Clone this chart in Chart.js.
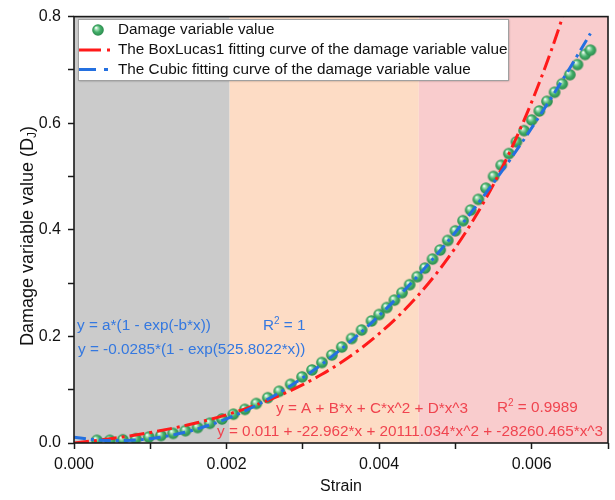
<!DOCTYPE html>
<html><head><meta charset="utf-8">
<script src="https://cdn.jsdelivr.net/npm/chart.js@4.4.1/dist/chart.umd.min.js"></script>
<style>html,body{margin:0;padding:0;background:#fff}#wrap{width:615px;height:500px;position:relative}</style>
</head><body><div id="wrap"><canvas id="c" width="615" height="500"></canvas></div>
<script>
// ---- data ----
const strainPoints = [0.0003,0.00047,0.00064,0.00081,0.00098,0.00114,0.0013,0.00146,0.00162,0.00178,0.00194,
  0.00209,0.00224,0.00239,0.00254,0.00269,0.00284,0.00299,0.00312,0.00325,0.00338,0.00351,0.00364,0.00377,0.0039,
  0.0040,0.0041,0.0042,0.0043,0.0044,0.0045,0.0046,0.0047,0.0048,0.0049,0.0050,0.0051,0.0052,0.0053,0.0054,0.0055,
  0.0056,0.0057,0.0058,0.0059,0.0060,0.0061,0.0062,0.0063,0.0064,0.0065,0.0066,0.0067,0.00677];
const damagePoints = [0.005,0.005,0.006,0.008,0.011,0.014,0.018,0.023,0.029,0.037,0.045,
  0.054,0.063,0.074,0.085,0.097,0.110,0.124,0.137,0.151,0.165,0.180,0.196,0.212,0.229,
  0.241,0.254,0.268,0.282,0.297,0.312,0.328,0.345,0.362,0.380,0.398,0.417,0.437,0.457,0.478,0.500,
  0.521,0.543,0.565,0.586,0.606,0.623,0.641,0.658,0.674,0.691,0.710,0.729,0.737];

const boxLucasStrain = [0,0.00025,0.0005,0.00075,0.001,0.00125,0.0015,0.00175,0.002,0.00225,0.0025,0.00275,0.003,
  0.00325,0.0035,0.00375,0.004,0.00425,0.0045,0.00475,0.005,0.00525,0.0055,0.00575,0.006,0.00625,0.0065];
const boxLucasValues = [0,0.0040,0.0086,0.0138,0.0197,0.0265,0.0342,0.0430,0.0531,0.0645,0.0776,0.0925,0.1095,
  0.1289,0.1510,0.1762,0.2050,0.2378,0.2752,0.3179,0.3665,0.4220,0.4853,0.5575,0.6399,0.7338,0.8408];

const cubicStrain = [0,0.00025,0.0005,0.00075,0.001,0.00125,0.0015,0.00175,0.002,0.00225,0.0025,0.00275,0.003,
  0.00325,0.0035,0.00375,0.004,0.00425,0.0045,0.00475,0.005,0.00525,0.0055,0.00575,0.006,0.00625,0.0065,0.00675,0.00677];
const cubicValues = [0.011,0.0065,0.0045,0.0051,0.0081,0.0137,0.0217,0.0323,0.0453,0.0608,0.0788,0.0994,0.1224,
  0.1478,0.1758,0.2062,0.2391,0.2745,0.3123,0.3527,0.3954,0.4407,0.4884,0.5385,0.5911,0.6462,0.7037,0.7636,0.7685];

const regionBounds = [0, 0.00204, 0.00452, 0.007];
const regionColors = ['#cbcbcb', '#fddcc5', '#f9cccd'];

const seriesNames = ['Damage variable value',
  'The BoxLucas1 fitting curve of the damage variable value',
  'The Cubic fitting curve of the damage variable value'];
const xTitle = 'Strain';
const yTitleMain = 'Damage variable value (D';
const yTitleSub = 'J';

const FONT = '"Liberation Sans", Arial, sans-serif';
const RED = '#ff1a1a', BLUE = '#2470e0';
const RED_TXT = '#f0444f', BLUE_TXT = '#3478e0';

function sphere(r){
  const s = Math.ceil(r*2+2), c = document.createElement('canvas');
  c.width = c.height = s;
  const g = c.getContext('2d'), cx = s/2, cy = s/2;
  const grd = g.createRadialGradient(cx-r*0.35, cy-r*0.4, r*0.05, cx, cy, r);
  grd.addColorStop(0, '#ffffff');
  grd.addColorStop(0.22, '#a6e0b8');
  grd.addColorStop(0.55, '#45b06b');
  grd.addColorStop(1, '#2a8a4c');
  g.fillStyle = grd; g.beginPath(); g.arc(cx, cy, r, 0, Math.PI*2); g.fill();
  return c;
}
const ball = sphere(5.8);

function rich(ctx, parts, x, y, align, base){
  let total = 0;
  const b = base || 15.3;
  parts.forEach(p => { ctx.font = (p.size||b)+'px '+FONT; p.w = ctx.measureText(p.t).width; total += p.w; });
  let cx = align === 'center' ? x - total/2 : x;
  parts.forEach(p => {
    ctx.font = (p.size||b)+'px '+FONT;
    ctx.textAlign = 'left'; ctx.textBaseline = 'middle';
    ctx.fillText(p.t, cx, y + (p.dy||0));
    cx += p.w;
  });
}

const decor = {
  id: 'decor',
  beforeDatasetsDraw(chart){
    const {ctx, chartArea:a, scales:{x}} = chart;
    ctx.save();
    for (let i = 0; i < regionColors.length; i++){
      const x0 = x.getPixelForValue(regionBounds[i]), x1 = x.getPixelForValue(regionBounds[i+1]);
      ctx.fillStyle = regionColors[i];
      ctx.fillRect(x0, a.top, x1 - x0, a.bottom - a.top);
    }
    ctx.restore();
  },
  afterDatasetsDraw(chart){
    const {ctx, chartArea:a} = chart;
    ctx.save();
    // texts of the fits
    ctx.fillStyle = BLUE_TXT;
    rich(ctx, [{t:'y = a*(1 - exp(-b*x))'}], 77, 326);
    rich(ctx, [{t:'R'},{t:'2',size:10,dy:-5},{t:' = 1'}], 263, 326);
    rich(ctx, [{t:'y = -0.0285*(1 - exp(525.8022*x))'}], 78, 350);
    ctx.fillStyle = RED_TXT;
    rich(ctx, [{t:'y = A + B*x + C*x^2 + D*x^3'}], 276, 409);
    rich(ctx, [{t:'R'},{t:'2',size:10,dy:-5},{t:' = 0.9989'}], 497, 408);
    rich(ctx, [{t:'y = 0.011 + -22.962*x + 20111.034*x^2 + -28260.465*x^3'}], 217, 432);
    // frame
    ctx.strokeStyle = '#1a1a1a'; ctx.lineWidth = 1.6;
    ctx.strokeRect(a.left, a.top, a.right - a.left, a.bottom - a.top);
    // legend box
    const lx = 78, ly = 19, lw = 430, lh = 61;
    ctx.save();
    ctx.shadowColor = 'rgba(0,0,0,0.35)'; ctx.shadowBlur = 2; ctx.shadowOffsetX = 1; ctx.shadowOffsetY = 1;
    ctx.fillStyle = '#ffffff'; ctx.fillRect(lx, ly, lw, lh);
    ctx.restore();
    ctx.strokeStyle = '#a0a0a0'; ctx.lineWidth = 1; ctx.strokeRect(lx+0.5, ly+0.5, lw, lh);
    ctx.drawImage(ball, 98 - ball.width/2, 30 - ball.height/2);
    ctx.lineWidth = 3; ctx.lineCap = 'butt';
    ctx.strokeStyle = RED; ctx.setLineDash([22,6,3,6]);
    ctx.beginPath(); ctx.moveTo(79, 50); ctx.lineTo(111, 50); ctx.stroke();
    ctx.strokeStyle = BLUE; ctx.setLineDash([17,8,4,6]);
    ctx.beginPath(); ctx.moveTo(79, 69.5); ctx.lineTo(111, 69.5); ctx.stroke();
    ctx.setLineDash([]);
    ctx.fillStyle = '#111';
    rich(ctx, [{t:seriesNames[0]}], 118, 30);
    rich(ctx, [{t:seriesNames[1]}], 118, 50);
    rich(ctx, [{t:seriesNames[2]}], 118, 69.5);
    // axis titles
    ctx.fillStyle = '#111';
    rich(ctx, [{t:xTitle}], (a.left + a.right)/2, 487, 'center', 16);
    ctx.translate(28, 236); ctx.rotate(-Math.PI/2);
    rich(ctx, [{t:yTitleMain},{t:yTitleSub,size:12,dy:5},{t:')'}], 0, 0, 'center', 18);
    ctx.restore();
  }
};

const pts = strainPoints.map((v,i) => ({x:v, y:damagePoints[i]}));
const blc = boxLucasStrain.map((v,i) => ({x:v, y:boxLucasValues[i]}));
const cub = cubicStrain.map((v,i) => ({x:v, y:cubicValues[i]}));

new Chart(document.getElementById('c'), {
  type: 'scatter',
  data: { datasets: [
    { label: seriesNames[2], data: cub, showLine: true, borderColor: BLUE, borderWidth: 3,
      borderDash: [12,5,3,5], pointRadius: 0, cubicInterpolationMode: 'monotone', fill: false, order: 1 },
    { label: seriesNames[1], data: blc, showLine: true, borderColor: RED, borderWidth: 3,
      borderDash: [15,5,3,5], pointRadius: 0, cubicInterpolationMode: 'monotone', fill: false, order: 2 },
    { label: seriesNames[0], data: pts, showLine: false, pointStyle: ball, pointRadius: 6, order: 3 }
  ]},
  options: {
    responsive: false, animation: false, devicePixelRatio: 1,
    layout: { padding: { top: 13, right: 7, left: 0, bottom: 0 } },
    plugins: { legend: { display: false }, tooltip: { enabled: false } },
    scales: {
      x: { type: 'linear', min: 0, max: 0.007,
        afterFit(s){ s.height = 57; },
        border: { display: false },
        grid: { drawOnChartArea: false, drawTicks: true, tickLength: 6, tickColor: '#1a1a1a', tickWidth: 1.5 },
        ticks: { stepSize: 0.001, autoSkip: false, maxRotation: 0, padding: 6, color: '#111',
          font: { size: 16, family: FONT },
          callback: v => (Math.round(v*1000) % 2 === 0 ? v.toFixed(3) : '') } },
      y: { type: 'linear', min: 0, max: 0.8,
        afterFit(s){ s.width = 74; },
        border: { display: false },
        grid: { drawOnChartArea: false, drawTicks: true, tickLength: 6, tickColor: '#1a1a1a', tickWidth: 1.5 },
        ticks: { stepSize: 0.1, autoSkip: false, padding: 7, color: '#111',
          font: { size: 16, family: FONT },
          callback: v => (Math.round(v*10) % 2 === 0 ? v.toFixed(1) : '') } }
    }
  },
  plugins: [decor]
});
</script></body></html>
